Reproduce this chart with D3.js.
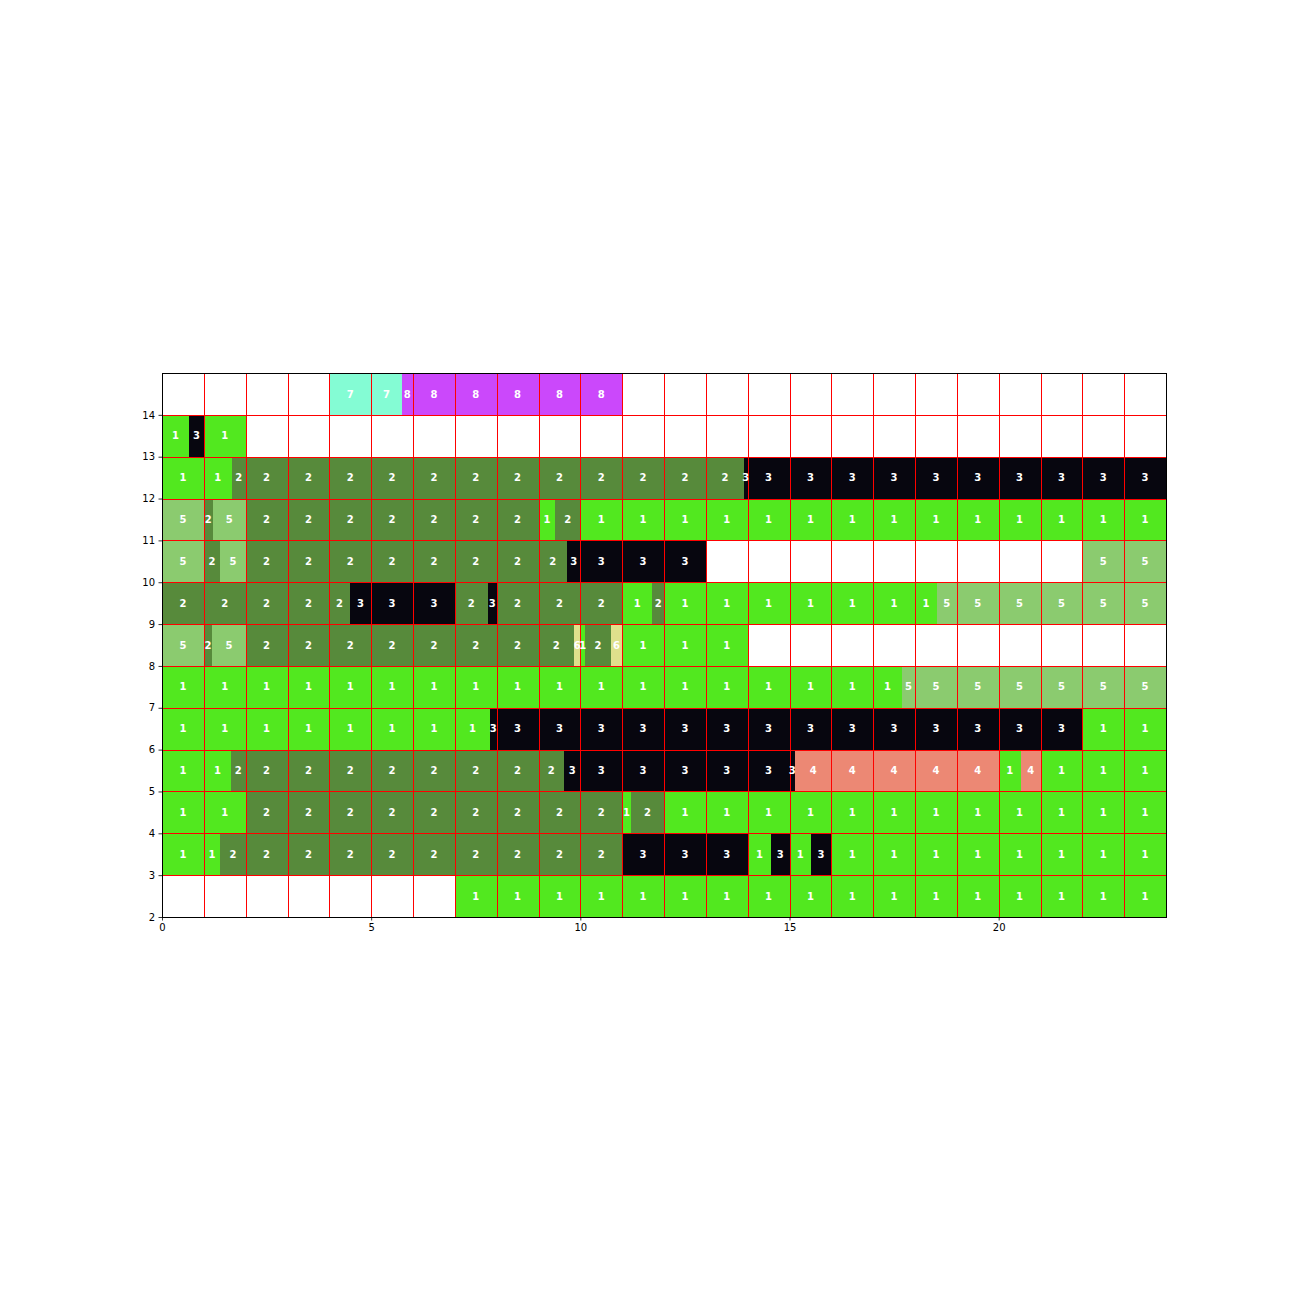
<!DOCTYPE html>
<html>
<head>
<meta charset="utf-8">
<script src="https://cdn.jsdelivr.net/npm/d3@7"></script>
<style>
  html, body { margin: 0; padding: 0; background: #fff; }
  svg { display: block; }
</style>
</head>
<body>
<script>
// ---------- DATA ----------
// Each row: list of [start hour, end hour, state]
const row14 = [[4, 5.73, 7], [5.73, 11, 8]];
const row13 = [[0, 0.65, 1], [0.65, 1, 3], [1, 2, 1]];
const row12 = [[0, 1.67, 1], [1.67, 13.91, 2], [13.91, 24, 3]];
const row11 = [[0, 1, 5], [1, 1.21, 2], [1.21, 2, 5], [2, 9, 2], [9, 9.4, 1], [9.4, 10, 2], [10, 24, 1]];
const row10 = [[0, 1, 5], [1, 1.39, 2], [1.39, 2, 5], [2, 9.68, 2], [9.68, 13, 3], [22, 24, 5]];
const row9  = [[0, 4.49, 2], [4.49, 7, 3], [7, 7.79, 2], [7.79, 8, 3], [8, 11, 2], [11, 11.72, 1], [11.72, 12, 2], [12, 18.52, 1], [18.52, 24, 5]];
const row8  = [[0, 1, 5], [1, 1.2, 2], [1.2, 2, 5], [2, 9.85, 2], [9.85, 10, 6], [10, 10.11, 1], [10.11, 10.73, 2], [10.73, 11, 6], [11, 14, 1]];
const row7  = [[0, 17.69, 1], [17.69, 24, 5]];
const row6  = [[0, 7.84, 1], [7.84, 22, 3], [22, 24, 1]];
const row5  = [[0, 1.65, 1], [1.65, 9.61, 2], [9.61, 15.13, 3], [15.13, 20, 4], [20, 20.53, 1], [20.53, 21, 4], [21, 24, 1]];
const row4  = [[0, 2, 1], [2, 11, 2], [11, 11.21, 1], [11.21, 12, 2], [12, 24, 1]];
const row3  = [[0, 1.39, 1], [1.39, 11, 2], [11, 14, 3], [14, 14.56, 1], [14.56, 15, 3], [15, 15.51, 1], [15.51, 16, 3], [16, 24, 1]];
const row2  = [[7, 24, 1]];

const rowLevels = [14, 13, 12, 11, 10, 9, 8, 7, 6, 5, 4, 3, 2];
const rowData = [row14, row13, row12, row11, row10, row9, row8, row7, row6, row5, row4, row3, row2];

const stateCodes = [1, 2, 3, 4, 5, 6, 7, 8];
const stateColors = ["#52e81f", "#578a3b", "#07060f", "#ec8874", "#8bcb6f", "#dfe08c", "#84fcd4", "#cb48fb"];

const xTicks = [0, 5, 10, 15, 20];
const yTicks = [2, 3, 4, 5, 6, 7, 8, 9, 10, 11, 12, 13, 14];

// ---------- LAYOUT ----------
const W = 1296, H = 1296;
const margin = { left: 162, right: 130, top: 373, bottom: 379 };

const svg = d3.select("body").append("svg").attr("width", W).attr("height", H);

const x = d3.scaleLinear().domain([0, 24]).range([margin.left, W - margin.right]);
const y = d3.scaleLinear().domain([2, 15]).range([H - margin.bottom, margin.top]);
const color = d3.scaleOrdinal().domain(stateCodes).range(stateColors);

const g = svg.append("g");

// bars
rowData.forEach((segs, i) => {
  const lvl = rowLevels[i];
  g.selectAll(null)
    .data(segs)
    .enter().append("rect")
    .attr("x", d => x(d[0]))
    .attr("width", d => x(d[1]) - x(d[0]))
    .attr("y", y(lvl + 1))
    .attr("height", y(lvl) - y(lvl + 1))
    .attr("fill", d => color(d[2]))
    .attr("shape-rendering", "crispEdges");
});

// grid
const snap = v => Math.round(v) + 0.5;
const gridG = svg.append("g").attr("stroke", "#ff0000").attr("stroke-width", 1).attr("shape-rendering", "crispEdges");
d3.range(1, 24).forEach(v => {
  gridG.append("line").attr("x1", snap(x(v))).attr("x2", snap(x(v))).attr("y1", y(2)).attr("y2", y(15));
});
d3.range(3, 15).forEach(v => {
  gridG.append("line").attr("y1", snap(y(v))).attr("y2", snap(y(v))).attr("x1", x(0)).attr("x2", x(24));
});

// labels: one per hour piece of each segment
const labelsG = svg.append("g")
  .attr("font-family", "DejaVu Sans")
  .attr("font-weight", "bold")
  .attr("font-size", 10)
  .attr("fill", "#ffffff")
  .attr("text-anchor", "middle");
rowData.forEach((segs, i) => {
  const lvl = rowLevels[i];
  const pieces = [];
  segs.forEach(([s, e, st]) => {
    let a = s;
    while (a < e - 1e-9) {
      const b = Math.min(e, Math.floor(a + 1e-9) + 1);
      pieces.push([a, b, st]);
      a = b;
    }
  });
  labelsG.selectAll(null)
    .data(pieces)
    .enter().append("text")
    .attr("x", d => x((d[0] + d[1]) / 2))
    .attr("y", y(lvl + 0.5))
    .attr("dy", "0.36em")
    .text(d => d[2]);
});

// frame
svg.append("rect")
  .attr("x", snap(x(0))).attr("y", snap(y(15)))
  .attr("width", Math.round(x(24) - x(0))).attr("height", Math.round(y(2) - y(15)))
  .attr("fill", "none").attr("stroke", "#000").attr("stroke-width", 1)
  .attr("shape-rendering", "crispEdges");

// axes
const xAxis = d3.axisBottom(x).tickValues(xTicks).tickFormat(d3.format("d")).tickSizeInner(3.5).tickSizeOuter(0).tickPadding(3.5);
const yAxis = d3.axisLeft(y).tickValues(yTicks).tickFormat(d3.format("d")).tickSizeInner(3.5).tickSizeOuter(0).tickPadding(3.5);

const gx = svg.append("g").attr("transform", `translate(0,${y(2)})`).call(xAxis);
const gy = svg.append("g").attr("transform", `translate(${x(0)},0)`).call(yAxis);
[gx, gy].forEach(ax => {
  ax.select(".domain").remove();
  ax.selectAll("text").attr("font-family", "DejaVu Sans").attr("font-size", 10).attr("fill", "#000");
  ax.selectAll("line").attr("stroke", "#000").attr("stroke-width", 0.8);
});
</script>
</body>
</html>
